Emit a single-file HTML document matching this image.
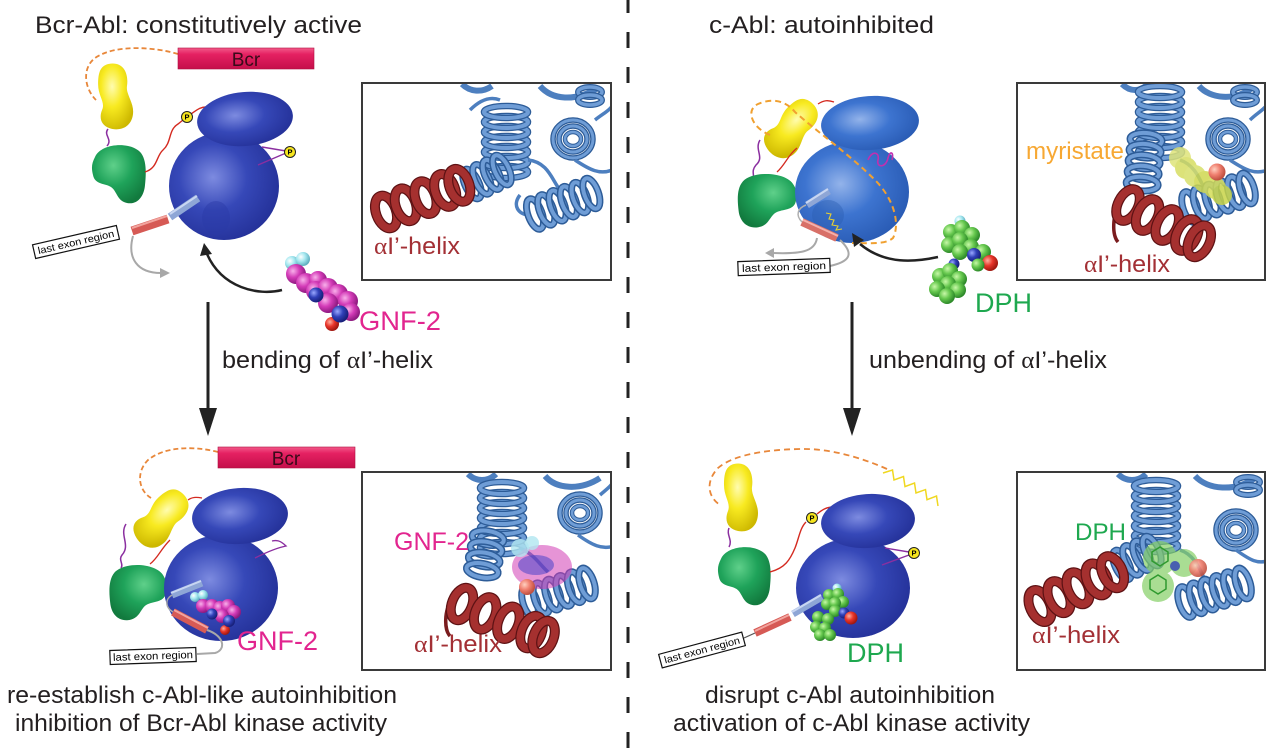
<!DOCTYPE html>
<html><head><meta charset="utf-8">
<style>
html,body{margin:0;padding:0;background:#fff;}
svg{display:block;}
text{font-family:"Liberation Sans",Arial,sans-serif;}
.sf{font-family:"Liberation Serif","DejaVu Serif",serif;}
</style></head><body>
<svg width="1280" height="751" viewBox="0 0 1280 751" xmlns="http://www.w3.org/2000/svg">
<defs>
<radialGradient id="gB" cx="0.4" cy="0.42" r="0.62"><stop offset="0" stop-color="#7d8be0"/><stop offset="0.5" stop-color="#3648b8"/><stop offset="1" stop-color="#25329a"/></radialGradient>
<radialGradient id="gB2" cx="0.4" cy="0.42" r="0.62"><stop offset="0" stop-color="#93b3ea"/><stop offset="0.5" stop-color="#3d74d0"/><stop offset="1" stop-color="#2a5cb5"/></radialGradient>
<radialGradient id="gY" cx="0.4" cy="0.35" r="0.7"><stop offset="0" stop-color="#fffcb0"/><stop offset="0.45" stop-color="#f8ea20"/><stop offset="1" stop-color="#cdb800"/></radialGradient>
<radialGradient id="gG" cx="0.4" cy="0.35" r="0.7"><stop offset="0" stop-color="#5fd08a"/><stop offset="0.5" stop-color="#1fa35a"/><stop offset="1" stop-color="#127a3e"/></radialGradient>
<linearGradient id="gBcr" x1="0" y1="0" x2="0" y2="1"><stop offset="0" stop-color="#f25a8a"/><stop offset="0.3" stop-color="#e52162"/><stop offset="1" stop-color="#c40f4a"/></linearGradient>
<radialGradient id="sM" cx="0.35" cy="0.35" r="0.65"><stop offset="0" stop-color="#f8b0ea"/><stop offset="0.5" stop-color="#d43cb8"/><stop offset="1" stop-color="#8e1a80"/></radialGradient>
<radialGradient id="sC" cx="0.35" cy="0.35" r="0.65"><stop offset="0" stop-color="#ffffff"/><stop offset="0.5" stop-color="#a5e8f0"/><stop offset="1" stop-color="#60b0c0"/></radialGradient>
<radialGradient id="sBl" cx="0.35" cy="0.35" r="0.65"><stop offset="0" stop-color="#9aa8ff"/><stop offset="0.5" stop-color="#3040b8"/><stop offset="1" stop-color="#18207a"/></radialGradient>
<radialGradient id="sR" cx="0.35" cy="0.35" r="0.65"><stop offset="0" stop-color="#ffb0a0"/><stop offset="0.5" stop-color="#e8352a"/><stop offset="1" stop-color="#a01810"/></radialGradient>
<radialGradient id="sG" cx="0.35" cy="0.35" r="0.65"><stop offset="0" stop-color="#c8f8a8"/><stop offset="0.5" stop-color="#66c84e"/><stop offset="1" stop-color="#2e8a2a"/></radialGradient>
<radialGradient id="sO" cx="0.35" cy="0.35" r="0.65"><stop offset="0" stop-color="#ffd0c0"/><stop offset="0.5" stop-color="#f08070"/><stop offset="1" stop-color="#c05040"/></radialGradient>
<g id="bc"><ellipse rx="5" ry="12" fill="none" stroke="#2d5c98" stroke-width="6"/><ellipse rx="5" ry="12" fill="none" stroke="#6f9dd6" stroke-width="3.5"/></g>
<g id="bcL"><ellipse rx="7" ry="16" fill="none" stroke="#2d5c98" stroke-width="7"/><ellipse rx="7" ry="16" fill="none" stroke="#6f9dd6" stroke-width="4"/></g>
<g id="bcX"><ellipse rx="6" ry="22" fill="none" stroke="#2d5c98" stroke-width="6.5"/><ellipse rx="6" ry="22" fill="none" stroke="#6f9dd6" stroke-width="4"/></g>
<g id="rc"><ellipse rx="10" ry="17" fill="none" stroke="#5e1214" stroke-width="10"/><ellipse rx="10" ry="17" fill="none" stroke="#a5302f" stroke-width="7.5"/></g>
<g id="eo" fill="none"><ellipse rx="20" ry="19" stroke="#2d5c98" stroke-width="5.5"/><ellipse rx="20" ry="19" stroke="#6f9dd6" stroke-width="3"/><ellipse rx="14" ry="13" stroke="#2d5c98" stroke-width="5.5"/><ellipse rx="14" ry="13" stroke="#6f9dd6" stroke-width="3"/><ellipse rx="8" ry="7" stroke="#2d5c98" stroke-width="4.5"/><ellipse rx="8" ry="7" stroke="#6f9dd6" stroke-width="2.5"/></g>
<path id="yb" d="M14,1 C28,-2 34,10 32,24 C31,32 38,40 38,50 C38,64 28,70 18,68 C8,66 4,58 8,48 C11,40 4,34 4,22 C4,10 6,3 14,1 Z"/>
<path id="gb" d="M4,14 C10,0 40,-2 50,10 C56,18 55,32 54,42 C53,54 46,62 36,60 C26,58 26,48 20,44 C14,40 4,42 2,32 C0,24 1,20 4,14 Z"/>
<clipPath id="c1"><rect x="363" y="84" width="247" height="195"/></clipPath>
<clipPath id="c2"><rect x="1018" y="84" width="246" height="195"/></clipPath>
<clipPath id="c3"><rect x="363" y="473" width="247" height="196"/></clipPath>
<clipPath id="c4"><rect x="1018" y="473" width="246" height="196"/></clipPath>
</defs>

<!-- divider -->
<line x1="628" y1="0" x2="628" y2="751" stroke="#222" stroke-width="3" stroke-dasharray="16 19" stroke-dashoffset="3"/>

<!-- titles -->
<text x="35" y="33" font-size="24" fill="#231f20" textLength="327" lengthAdjust="spacingAndGlyphs">Bcr-Abl: constitutively active</text>
<text x="709" y="33" font-size="24" fill="#231f20" textLength="225" lengthAdjust="spacingAndGlyphs">c-Abl: autoinhibited</text>

<!-- ================= TOP LEFT ================= -->
<path d="M178,54 C155,47 115,44 95,58 C82,68 84,88 96,100" fill="none" stroke="#e8873a" stroke-width="1.8" stroke-dasharray="5 3"/>
<rect x="178" y="48" width="136" height="21" fill="url(#gBcr)" stroke="#b01040" stroke-width="0.6"/>
<text x="246" y="66" font-size="19" fill="#3a0a1a" text-anchor="middle">Bcr</text>
<use href="#yb" fill="url(#gY)" transform="translate(94,63) scale(1.03,0.97)"/>
<path d="M108,129 C103,135 113,139 107,146" fill="none" stroke="#8b2fa0" stroke-width="1.5"/>
<use href="#gb" fill="url(#gG)" transform="translate(91,143)"/>
<path d="M145,172 C158,168 156,156 163,150 C172,142 168,130 178,124 L183,120 M191,114 C197,110 200,107 206,107" fill="none" stroke="#d42a20" stroke-width="1.4"/>
<ellipse cx="224" cy="186" rx="55" ry="54" fill="url(#gB)"/>
<ellipse cx="245" cy="119" rx="48" ry="27" transform="rotate(-5 245 119)" fill="url(#gB)"/>
<ellipse cx="216" cy="218" rx="14" ry="17" fill="#2a3aa6" opacity="0.45"/>
<path d="M262,147 L286,151 M258,165 L286,153" stroke="#8b2fa0" stroke-width="1.4" fill="none"/>
<g transform="translate(187,117)"><circle r="5.5" fill="#f6e51e" stroke="#222" stroke-width="1"/><text y="2.6" font-size="7.5" font-weight="bold" text-anchor="middle">P</text></g>
<g transform="translate(290,152)"><circle r="5.5" fill="#f6e51e" stroke="#222" stroke-width="1"/><text y="2.6" font-size="7.5" font-weight="bold" text-anchor="middle">P</text></g>
<line x1="198" y1="198" x2="170" y2="217" stroke="#8ea6d6" stroke-width="8"/>
<line x1="197" y1="196" x2="170" y2="214" stroke="#c8d6f2" stroke-width="2"/>
<line x1="168" y1="219" x2="132" y2="231" stroke="#d65a55" stroke-width="9"/>
<line x1="167" y1="216" x2="132" y2="228" stroke="#f2a49e" stroke-width="2"/>
<path d="M133,236 C127,258 137,273 161,273" fill="none" stroke="#a8a8a8" stroke-width="2"/>
<polygon points="170,273 160,268 160,278" fill="#a8a8a8"/>
<g transform="translate(76,242) rotate(-13)"><rect x="-43" y="-7" width="86" height="14" fill="#fff" stroke="#111" stroke-width="1.2"/><text y="3.5" font-size="10" text-anchor="middle" textLength="78" lengthAdjust="spacingAndGlyphs">last exon region</text></g>
<path d="M282,290 C258,296 222,288 207,254" fill="none" stroke="#222" stroke-width="2.5"/>
<polygon points="204,243 212,254 200,256" fill="#222"/>
<!-- GNF-2 molecule -->
<circle cx="292" cy="263" r="7" fill="url(#sC)"/>
<circle cx="303" cy="259" r="7" fill="url(#sC)"/>
<circle cx="296" cy="274" r="10" fill="url(#sM)"/>
<circle cx="306" cy="283" r="10" fill="url(#sM)"/>
<circle cx="318" cy="280" r="9" fill="url(#sM)"/>
<circle cx="316" cy="291" r="10" fill="url(#sM)"/>
<circle cx="328" cy="288" r="10" fill="url(#sM)"/>
<circle cx="338" cy="294" r="10" fill="url(#sM)"/>
<circle cx="348" cy="301" r="10" fill="url(#sM)"/>
<circle cx="351" cy="312" r="9" fill="url(#sM)"/>
<circle cx="328" cy="303" r="10" fill="url(#sM)"/>
<circle cx="316" cy="295" r="7.5" fill="url(#sBl)"/>
<circle cx="332" cy="324" r="7" fill="url(#sR)"/>
<circle cx="340" cy="314" r="8.5" fill="url(#sBl)"/>
<text x="359" y="330" font-size="27" fill="#e2258f" textLength="82" lengthAdjust="spacingAndGlyphs">GNF-2</text>

<!-- TL inset -->
<g clip-path="url(#c1)">
<path d="M462,84 C470,92 482,93 492,86" fill="none" stroke="#4d7fbf" stroke-width="6"/>
<path d="M540,86 C552,100 575,102 598,88" fill="none" stroke="#4d7fbf" stroke-width="6"/>
<g transform="translate(590,92) rotate(90)"><use href="#bc" x="0"/><use href="#bc" x="8"/></g>
<g transform="translate(506,172) rotate(-90)"><use href="#bcX" x="0"/><use href="#bcX" x="10"/><use href="#bcX" x="20"/><use href="#bcX" x="30"/><use href="#bcX" x="40"/><use href="#bcX" x="50"/><use href="#bcX" x="60"/></g>
<g transform="translate(573,139)"><use href="#eo"/></g>
<path d="M528,160 C548,162 552,180 560,190 M575,160 C590,170 600,175 612,170 M520,195 C512,205 518,215 530,215 M470,110 C480,100 490,96 500,100 M595,120 C605,112 612,110 615,100" fill="none" stroke="#4d7fbf" stroke-width="3.5"/>
<g transform="translate(535,214) rotate(-20)"><use href="#bcL" x="0"/><use href="#bcL" x="12"/><use href="#bcL" x="24"/><use href="#bcL" x="36"/><use href="#bcL" x="48"/><use href="#bcL" x="60"/></g>
<g transform="translate(472,184) rotate(-25)"><use href="#bcL" x="0"/><use href="#bcL" x="11"/><use href="#bcL" x="22"/><use href="#bcL" x="33"/></g>
<g transform="translate(386,212) rotate(-20)"><use href="#rc" x="0"/><use href="#rc" x="21"/><use href="#rc" x="42"/><use href="#rc" x="63"/><use href="#rc" x="78"/></g>
</g>
<rect x="362" y="83" width="249" height="197" fill="none" stroke="#3a3a3a" stroke-width="2"/>
<text x="374" y="254" font-size="24" fill="#a33035" textLength="86" lengthAdjust="spacingAndGlyphs"><tspan class="sf">α</tspan>I’-helix</text>

<!-- arrow left -->
<line x1="208" y1="302" x2="208" y2="412" stroke="#222" stroke-width="3"/>
<polygon points="199,408 217,408 208,436" fill="#222"/>
<text x="222" y="368" font-size="24" fill="#231f20" textLength="211" lengthAdjust="spacingAndGlyphs">bending of <tspan class="sf">α</tspan>I’-helix</text>

<!-- ================= TOP RIGHT ================= -->
<use href="#yb" fill="url(#gY)" transform="translate(792,128) rotate(45) scale(1.1,0.95) translate(-20,-34)"/>
<path d="M818,104 C824,100 828,100 834,102 M797,148 C788,155 785,165 777,172" fill="none" stroke="#d42a20" stroke-width="1.3"/>
<path d="M760,140 C754,150 765,157 756,165 C750,172 756,176 752,179" fill="none" stroke="#8b2fa0" stroke-width="1.5"/>
<use href="#gb" fill="url(#gG)" transform="translate(798,172) scale(-1.1,0.92)"/>
<ellipse cx="852" cy="192" rx="57" ry="51" fill="url(#gB2)"/>
<ellipse cx="870" cy="123" rx="49" ry="27" transform="rotate(-4 870 123)" fill="url(#gB2)"/>
<ellipse cx="828" cy="215" rx="16" ry="15" fill="#2a5cb0" opacity="0.4"/>
<path d="M868,160 C872,150 880,152 878,160 C876,168 886,168 888,158 C890,150 894,152 892,160" fill="none" stroke="#c030b0" stroke-width="1.6"/>
<path d="M770,135 C752,128 745,110 758,104 C772,98 785,100 795,112 C815,130 850,155 875,180 C895,200 900,225 893,238 C885,245 868,243 852,243" fill="none" stroke="#f0a030" stroke-width="2" stroke-dasharray="6 4"/>
<line x1="807" y1="205" x2="829" y2="191" stroke="#8ea6d6" stroke-width="7"/>
<line x1="806" y1="203" x2="828" y2="189" stroke="#c8d6f2" stroke-width="2"/>
<polyline points="826,213 831,214 829,219 834,220 832,225 838,226 836,230 842,229" fill="none" stroke="#e8d030" stroke-width="1.1"/>
<line x1="802" y1="222" x2="837" y2="238" stroke="#d87068" stroke-width="8"/>
<line x1="803" y1="220" x2="838" y2="236" stroke="#f4b0aa" stroke-width="2"/>
<path d="M802,222 C795,215 798,208 806,205" fill="none" stroke="#b0b0b0" stroke-width="1.5"/>
<path d="M817,238 C815,252 800,254 773,253" fill="none" stroke="#a8a8a8" stroke-width="2"/>
<polygon points="765,253 774,248 774,258" fill="#a8a8a8"/>
<path d="M830,266 C848,262 856,255 840,240" fill="none" stroke="#a8a8a8" stroke-width="2"/>
<g transform="translate(784,267) rotate(-2)"><rect x="-46" y="-7" width="92" height="14" fill="#fff" stroke="#111" stroke-width="1.2"/><text y="3.5" font-size="10.5" text-anchor="middle" textLength="84" lengthAdjust="spacingAndGlyphs">last exon region</text></g>
<path d="M938,257 C915,262 885,265 860,244" fill="none" stroke="#222" stroke-width="2.5"/>
<polygon points="852,233 864,240 854,247" fill="#222"/>
<!-- DPH molecule -->
<circle cx="960" cy="221" r="5.5" fill="url(#sC)"/>
<circle cx="951" cy="232" r="8" fill="url(#sG)"/>
<circle cx="962" cy="228" r="8" fill="url(#sG)"/>
<circle cx="972" cy="235" r="8" fill="url(#sG)"/>
<circle cx="949" cy="245" r="8" fill="url(#sG)"/>
<circle cx="960" cy="240" r="8" fill="url(#sG)"/>
<circle cx="971" cy="247" r="8" fill="url(#sG)"/>
<circle cx="960" cy="252" r="8" fill="url(#sG)"/>
<circle cx="983" cy="252" r="8" fill="url(#sG)"/>
<circle cx="974" cy="255" r="7" fill="url(#sBl)"/>
<circle cx="990" cy="263" r="8" fill="url(#sR)"/>
<circle cx="978" cy="265" r="6.5" fill="url(#sG)"/>
<circle cx="954" cy="264" r="5.5" fill="url(#sBl)"/>
<circle cx="940" cy="276" r="8" fill="url(#sG)"/>
<circle cx="950" cy="271" r="8" fill="url(#sG)"/>
<circle cx="959" cy="279" r="8" fill="url(#sG)"/>
<circle cx="948" cy="284" r="8" fill="url(#sG)"/>
<circle cx="937" cy="289" r="8" fill="url(#sG)"/>
<circle cx="958" cy="290" r="8" fill="url(#sG)"/>
<circle cx="947" cy="296" r="8" fill="url(#sG)"/>
<text x="975" y="312" font-size="27" fill="#1ea84f" textLength="57" lengthAdjust="spacingAndGlyphs">DPH</text>

<!-- TR inset -->
<g clip-path="url(#c2)">
<path d="M1122,84 C1130,92 1140,92 1148,84" fill="none" stroke="#4d7fbf" stroke-width="6"/>
<path d="M1199,86 C1210,99 1235,101 1252,88" fill="none" stroke="#4d7fbf" stroke-width="6"/>
<g transform="translate(1245,92) rotate(90)"><use href="#bc" x="0"/><use href="#bc" x="8"/></g>
<g transform="translate(1160,152) rotate(-90)"><use href="#bcX" x="0"/><use href="#bcX" x="10"/><use href="#bcX" x="20"/><use href="#bcX" x="30"/><use href="#bcX" x="40"/><use href="#bcX" x="50"/><use href="#bcX" x="60"/></g>
<g transform="translate(1146,140) rotate(95)"><use href="#bcL" x="0"/><use href="#bcL" x="11"/><use href="#bcL" x="22"/><use href="#bcL" x="33"/><use href="#bcL" x="44"/></g>
<g transform="translate(1228,139)"><use href="#eo"/></g>
<path d="M1180,160 C1195,165 1200,180 1205,190 M1230,160 C1245,170 1255,175 1268,170 M1250,120 C1258,112 1265,110 1270,100" fill="none" stroke="#4d7fbf" stroke-width="3.5"/>
<g transform="translate(1190,207) rotate(-18)"><use href="#bcL" x="0"/><use href="#bcL" x="12"/><use href="#bcL" x="24"/><use href="#bcL" x="36"/><use href="#bcL" x="48"/><use href="#bcL" x="60"/></g>
<g opacity="0.85">
<circle cx="1180" cy="158" r="11" fill="#dfe47a"/>
<circle cx="1186" cy="168" r="11" fill="#d6de62"/>
<circle cx="1195" cy="176" r="11" fill="#d8e06a"/>
<circle cx="1205" cy="182" r="11" fill="#cfd850"/>
<circle cx="1215" cy="188" r="11" fill="#d4dc58"/>
<circle cx="1222" cy="195" r="10" fill="#c8d448"/>
</g>
<circle cx="1217" cy="172" r="8.5" fill="url(#sO)"/>
<path d="M1120,205 C1112,215 1112,235 1118,242" fill="none" stroke="#7a1c1e" stroke-width="3.5"/>
<g transform="translate(1128,205) rotate(27)"><use href="#rc" x="0"/><use href="#rc" x="22"/><use href="#rc" x="44"/><use href="#rc" x="66"/><use href="#rc" x="80"/></g>
</g>
<rect x="1017" y="83" width="248" height="197" fill="none" stroke="#3a3a3a" stroke-width="2"/>
<text x="1026" y="159" font-size="24" fill="#f7a833" textLength="98" lengthAdjust="spacingAndGlyphs">myristate</text>
<text x="1084" y="272" font-size="24" fill="#a33035" textLength="86" lengthAdjust="spacingAndGlyphs"><tspan class="sf">α</tspan>I’-helix</text>

<!-- arrow right -->
<line x1="852" y1="302" x2="852" y2="412" stroke="#222" stroke-width="3"/>
<polygon points="843,408 861,408 852,436" fill="#222"/>
<text x="869" y="368" font-size="24" fill="#231f20" textLength="238" lengthAdjust="spacingAndGlyphs">unbending of <tspan class="sf">α</tspan>I’-helix</text>

<!-- ================= BOTTOM LEFT ================= -->
<path d="M218,452 C195,446 165,446 148,460 C136,472 138,490 151,498" fill="none" stroke="#e8873a" stroke-width="1.8" stroke-dasharray="5 3"/>
<rect x="218" y="447" width="137" height="21" fill="url(#gBcr)" stroke="#b01040" stroke-width="0.6"/>
<text x="286" y="465" font-size="19" fill="#3a0a1a" text-anchor="middle">Bcr</text>
<use href="#yb" fill="url(#gY)" transform="translate(162,518) rotate(48) scale(1.1,0.95) translate(-20,-34)"/>
<path d="M188,500 C192,497 196,497 202,498 M170,540 C160,550 158,558 150,564" fill="none" stroke="#d42a20" stroke-width="1.3"/>
<path d="M126,524 C119,535 131,545 122,555 C118,560 124,564 121,568" fill="none" stroke="#8b2fa0" stroke-width="1.5"/>
<use href="#gb" fill="url(#gG)" transform="translate(168,563) scale(-1.07,0.95)"/>
<ellipse cx="221" cy="588" rx="57" ry="53" fill="url(#gB)"/>
<ellipse cx="240" cy="516" rx="48" ry="28" transform="rotate(-4 240 516)" fill="url(#gB)"/>
<path d="M255,558 C265,553 276,548 286,546 C280,540 276,540 272,541" fill="none" stroke="#8b2fa0" stroke-width="1.4"/>
<line x1="172" y1="595" x2="202" y2="583" stroke="#8ea6d6" stroke-width="7"/>
<line x1="171" y1="593" x2="201" y2="581" stroke="#c8d6f2" stroke-width="2"/>
<path d="M172,595 C164,600 166,608 173,612" fill="none" stroke="#a8a8a8" stroke-width="1.5"/>
<line x1="173" y1="612" x2="207" y2="630" stroke="#d65a55" stroke-width="8"/>
<line x1="174" y1="610" x2="208" y2="628" stroke="#f2a49e" stroke-width="2"/>
<path d="M207,630 C225,636 226,650 215,653 L197,654" fill="none" stroke="#a8a8a8" stroke-width="2"/>
<g transform="translate(153,656) rotate(-2)"><rect x="-43" y="-7" width="86" height="14" fill="#fff" stroke="#111" stroke-width="1.2"/><text y="3.5" font-size="10.5" text-anchor="middle" textLength="80" lengthAdjust="spacingAndGlyphs">last exon region</text></g>
<!-- GNF-2 in pocket -->
<circle cx="195" cy="597" r="5" fill="url(#sC)"/>
<circle cx="203" cy="595" r="5" fill="url(#sC)"/>
<circle cx="203" cy="606" r="7" fill="url(#sM)"/>
<circle cx="212" cy="606" r="7" fill="url(#sM)"/>
<circle cx="220" cy="608" r="7" fill="url(#sM)"/>
<circle cx="228" cy="606" r="7" fill="url(#sM)"/>
<circle cx="234" cy="612" r="7" fill="url(#sM)"/>
<circle cx="222" cy="616" r="7" fill="url(#sM)"/>
<circle cx="212" cy="614" r="5.5" fill="url(#sBl)"/>
<circle cx="225" cy="630" r="5" fill="url(#sR)"/>
<circle cx="229" cy="621" r="6" fill="url(#sBl)"/>
<text x="237" y="650" font-size="27" fill="#e2258f" textLength="81" lengthAdjust="spacingAndGlyphs">GNF-2</text>

<!-- BL inset -->
<g clip-path="url(#c3)">
<path d="M468,474 C476,482 488,482 496,474" fill="none" stroke="#4d7fbf" stroke-width="6"/>
<path d="M545,476 C556,489 580,491 600,478" fill="none" stroke="#4d7fbf" stroke-width="6"/>
<g transform="translate(502,548) rotate(-90)"><use href="#bcX" x="0"/><use href="#bcX" x="10"/><use href="#bcX" x="20"/><use href="#bcX" x="30"/><use href="#bcX" x="40"/><use href="#bcX" x="50"/><use href="#bcX" x="60"/></g>
<g transform="translate(488,538) rotate(100)"><use href="#bcL" x="0"/><use href="#bcL" x="11"/><use href="#bcL" x="22"/><use href="#bcL" x="33"/></g>
<g transform="translate(580,513)"><use href="#eo"/></g>
<path d="M520,548 C535,555 540,565 548,572 M578,535 C592,545 602,550 614,546 M600,495 C608,488 612,486 615,478" fill="none" stroke="#4d7fbf" stroke-width="3.5"/>
<g transform="translate(530,602) rotate(-18)"><use href="#bcL" x="0"/><use href="#bcL" x="12"/><use href="#bcL" x="24"/><use href="#bcL" x="36"/><use href="#bcL" x="48"/><use href="#bcL" x="60"/></g>
<ellipse cx="542" cy="567" rx="30" ry="22" fill="#d23cb4" opacity="0.55"/>
<ellipse cx="536" cy="565" rx="18" ry="10" fill="#3c3cc8" opacity="0.5"/>
<circle cx="520" cy="548" r="9" fill="#b0e6f0" opacity="0.8"/>
<circle cx="532" cy="543" r="7" fill="#b0e6f0" opacity="0.8"/>
<circle cx="527" cy="587" r="8" fill="url(#sO)"/>
<path d="M452,600 C444,610 444,630 450,636" fill="none" stroke="#7a1c1e" stroke-width="3.5"/>
<g transform="translate(462,604) rotate(22)"><use href="#rc" x="0"/><use href="#rc" x="25"/><use href="#rc" x="50"/><use href="#rc" x="75"/><use href="#rc" x="88"/></g>
</g>
<rect x="362" y="472" width="249" height="198" fill="none" stroke="#3a3a3a" stroke-width="2"/>
<text x="394" y="550" font-size="25" fill="#e2258f" textLength="75" lengthAdjust="spacingAndGlyphs">GNF-2</text>
<text x="414" y="652" font-size="24" fill="#a33035" textLength="88" lengthAdjust="spacingAndGlyphs"><tspan class="sf">α</tspan>I’-helix</text>

<!-- ================= BOTTOM RIGHT ================= -->
<path d="M887,469 C860,457 830,449 805,449 C775,449 735,453 718,468 C705,482 708,497 720,505" fill="none" stroke="#e8873a" stroke-width="1.8" stroke-dasharray="6 4"/>
<polyline points="883,473 892.5,470 894,480 903.5,476.5 905,486.6 914.5,483 916,493 925.5,489.6 927,499.7 936.5,496 938,506" fill="none" stroke="#f0d820" stroke-width="1.5"/>
<use href="#yb" fill="url(#gY)" transform="translate(720,463)"/>
<path d="M729,528 C726,535 733,540 729,547" fill="none" stroke="#8b2fa0" stroke-width="1.5"/>
<use href="#gb" fill="url(#gG)" transform="translate(717,545) scale(0.98,1)"/>
<path d="M770,572 C785,568 790,560 795,548 C799,538 800,528 806,522 M817,514 C822,510 826,507 834,507" fill="none" stroke="#d42a20" stroke-width="1.4"/>
<ellipse cx="853" cy="588" rx="57" ry="50" fill="url(#gB)"/>
<ellipse cx="868" cy="521" rx="47" ry="27" transform="rotate(-4 868 521)" fill="url(#gB)"/>
<path d="M885,548 L909,552 M882,565 L909,555" stroke="#8b2fa0" stroke-width="1.4" fill="none"/>
<g transform="translate(812,518)"><circle r="5.5" fill="#f6e51e" stroke="#222" stroke-width="1"/><text y="2.6" font-size="7.5" font-weight="bold" text-anchor="middle">P</text></g>
<g transform="translate(914,553)"><circle r="5.5" fill="#f6e51e" stroke="#222" stroke-width="1"/><text y="2.6" font-size="7.5" font-weight="bold" text-anchor="middle">P</text></g>
<line x1="822" y1="597" x2="793" y2="614" stroke="#8ea6d6" stroke-width="7"/>
<line x1="821" y1="595" x2="792" y2="612" stroke="#c8d6f2" stroke-width="2"/>
<line x1="790" y1="617" x2="755" y2="633" stroke="#d65a55" stroke-width="8"/>
<line x1="789" y1="615" x2="755" y2="631" stroke="#f2a49e" stroke-width="2"/>
<line x1="755" y1="633" x2="744" y2="638" stroke="#555" stroke-width="1.2"/>
<g transform="translate(702,650) rotate(-15)"><rect x="-43" y="-7" width="86" height="14" fill="#fff" stroke="#111" stroke-width="1.2"/><text y="3.5" font-size="10" text-anchor="middle" textLength="78" lengthAdjust="spacingAndGlyphs">last exon region</text></g>
<!-- DPH in pocket -->
<circle cx="837" cy="588" r="4.5" fill="url(#sC)"/>
<circle cx="829" cy="595" r="6" fill="url(#sG)"/>
<circle cx="838" cy="594" r="6" fill="url(#sG)"/>
<circle cx="843" cy="602" r="6" fill="url(#sG)"/>
<circle cx="827" cy="604" r="6" fill="url(#sG)"/>
<circle cx="835" cy="603" r="6" fill="url(#sG)"/>
<circle cx="835" cy="611" r="6" fill="url(#sG)"/>
<circle cx="844" cy="613" r="5.5" fill="url(#sBl)"/>
<circle cx="851" cy="618" r="6.5" fill="url(#sR)"/>
<circle cx="818" cy="617" r="6" fill="url(#sG)"/>
<circle cx="828" cy="619" r="6" fill="url(#sG)"/>
<circle cx="816" cy="627" r="6" fill="url(#sG)"/>
<circle cx="825" cy="628" r="6" fill="url(#sG)"/>
<circle cx="820" cy="635" r="6" fill="url(#sG)"/>
<circle cx="830" cy="635" r="6" fill="url(#sG)"/>
<text x="847" y="662" font-size="27" fill="#1ea84f" textLength="57" lengthAdjust="spacingAndGlyphs">DPH</text>

<!-- BR inset -->
<g clip-path="url(#c4)">
<path d="M1118,474 C1126,482 1138,482 1146,474" fill="none" stroke="#4d7fbf" stroke-width="6"/>
<path d="M1195,476 C1208,490 1235,492 1255,478" fill="none" stroke="#4d7fbf" stroke-width="6"/>
<g transform="translate(1248,482) rotate(90)"><use href="#bc" x="0"/><use href="#bc" x="8"/></g>
<g transform="translate(1156,546) rotate(-90)"><use href="#bcX" x="0"/><use href="#bcX" x="10"/><use href="#bcX" x="20"/><use href="#bcX" x="30"/><use href="#bcX" x="40"/><use href="#bcX" x="50"/><use href="#bcX" x="60"/></g>
<g transform="translate(1236,530)"><use href="#eo"/></g>
<path d="M1180,550 C1195,555 1200,570 1205,580 M1236,550 C1250,560 1258,565 1270,560" fill="none" stroke="#4d7fbf" stroke-width="3.5"/>
<g transform="translate(1186,602) rotate(-18)"><use href="#bcL" x="0"/><use href="#bcL" x="12"/><use href="#bcL" x="24"/><use href="#bcL" x="36"/><use href="#bcL" x="48"/><use href="#bcL" x="60"/></g>
<g transform="translate(1122,565) rotate(-25)"><use href="#bcL" x="0"/><use href="#bcL" x="11"/><use href="#bcL" x="22"/><use href="#bcL" x="33"/></g>
<g opacity="0.7">
<circle cx="1160" cy="558" r="17" fill="#86d066"/>
<circle cx="1158" cy="586" r="16" fill="#86d066"/>
<circle cx="1184" cy="563" r="14" fill="#86d066"/>
</g>
<path d="M1152,552 l8,-5 l8,5 l0,9 l-8,5 l-8,-5 Z M1150,580 l8,-5 l8,5 l0,9 l-8,5 l-8,-5 Z" fill="none" stroke="#2f9a2f" stroke-width="1.5"/>
<circle cx="1175" cy="566" r="5" fill="#3040b8" opacity="0.8"/>
<circle cx="1198" cy="568" r="9" fill="url(#sO)" opacity="0.9"/>
<g transform="translate(1040,606) rotate(-25)"><use href="#rc" x="0"/><use href="#rc" x="21"/><use href="#rc" x="42"/><use href="#rc" x="63"/><use href="#rc" x="80"/></g>
</g>
<rect x="1017" y="472" width="248" height="198" fill="none" stroke="#3a3a3a" stroke-width="2"/>
<text x="1075" y="540" font-size="24" fill="#1ea84f" textLength="51" lengthAdjust="spacingAndGlyphs">DPH</text>
<text x="1032" y="643" font-size="24" fill="#a33035" textLength="88" lengthAdjust="spacingAndGlyphs"><tspan class="sf">α</tspan>I’-helix</text>

<!-- bottom captions -->
<text x="7" y="703" font-size="24" fill="#231f20" textLength="390" lengthAdjust="spacingAndGlyphs">re-establish c-Abl-like autoinhibition</text>
<text x="15" y="731" font-size="24" fill="#231f20" textLength="372" lengthAdjust="spacingAndGlyphs">inhibition of Bcr-Abl kinase activity</text>
<text x="705" y="703" font-size="24" fill="#231f20" textLength="290" lengthAdjust="spacingAndGlyphs">disrupt c-Abl autoinhibition</text>
<text x="673" y="731" font-size="24" fill="#231f20" textLength="357" lengthAdjust="spacingAndGlyphs">activation of c-Abl kinase activity</text>
</svg>
</body></html>
